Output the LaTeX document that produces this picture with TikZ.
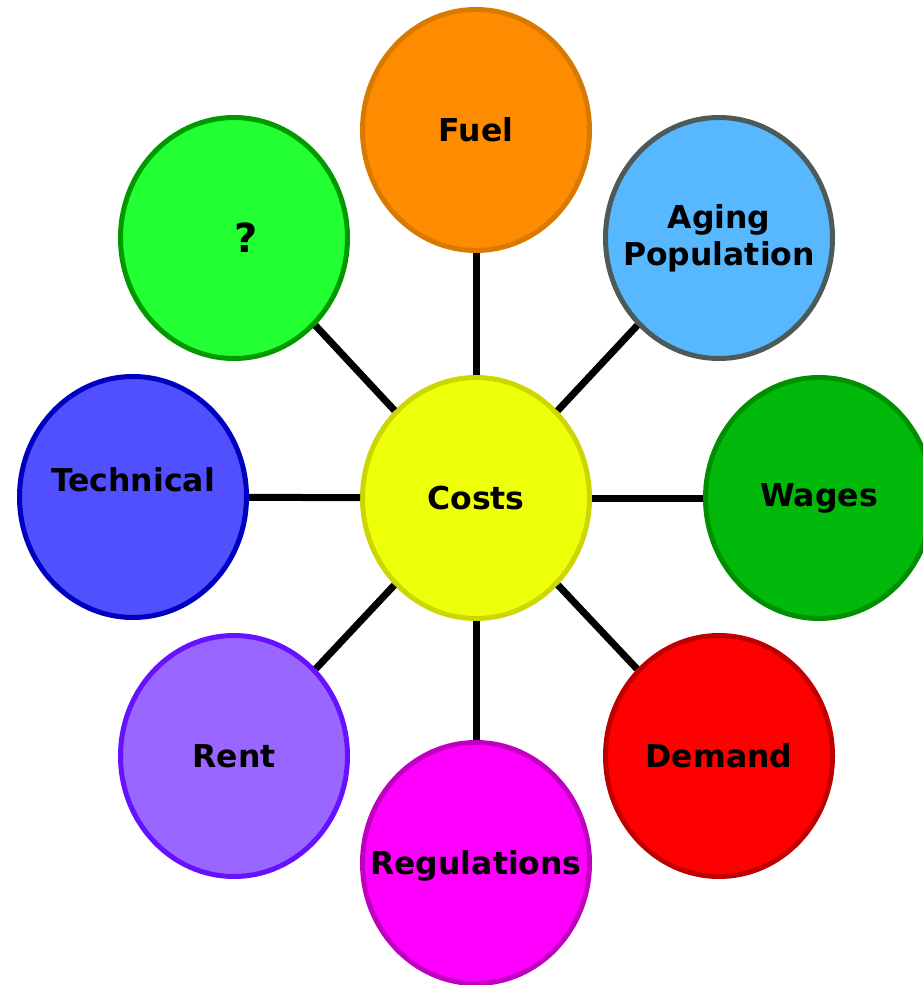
\documentclass[tikz,border=0pt]{standalone}
\usepackage{fontspec}
\setmainfont{DejaVu Sans}
\usetikzlibrary{positioning, calc, shapes.geometric}

\definecolor{fuelfill}{HTML}{FF8C00}\definecolor{fueldraw}{HTML}{D97A00}
\definecolor{agefill}{HTML}{57B8FF}\definecolor{agedraw}{HTML}{4D5A5A}
\definecolor{wagefill}{HTML}{00B90A}\definecolor{wagedraw}{HTML}{008F00}
\definecolor{demfill}{HTML}{FF0000}\definecolor{demdraw}{HTML}{C00000}
\definecolor{regfill}{HTML}{FF00FF}\definecolor{regdraw}{HTML}{C000C0}
\definecolor{rentfill}{HTML}{9966FF}\definecolor{rentdraw}{HTML}{6611FF}
\definecolor{techfill}{HTML}{5050FF}\definecolor{techdraw}{HTML}{0000C0}
\definecolor{askfill}{HTML}{22FF33}\definecolor{askdraw}{HTML}{009900}
\definecolor{costfill}{HTML}{EEFF0A}\definecolor{costdraw}{HTML}{CCD600}

\tikzset{
  bubble/.style={ellipse, draw, line width=5pt, minimum width=227pt, minimum height=241pt, inner sep=0pt},
  word/.style={font=\fontsize{31.5}{37}\selectfont\bfseries, align=center},
  spoke/.style={line width=7pt, black}
}

\begin{document}
\begin{tikzpicture}[x=1pt, y=-1pt]
			\useasboundingbox (0,0) rectangle (922,985);
			\node (costs) [bubble, fill=costfill, draw=costdraw, label={[word]center:Costs}] at (476,498) {};
			\node (fuel) [bubble, fill=fuelfill, draw=fueldraw, label={[word]center:Fuel}] at (476,130) {};
			\node (aging) [bubble, fill=agefill, draw=agedraw, label={[word]center:Aging\\Population}] at (719,238) {};
			\node (wages) [bubble, fill=wagefill, draw=wagedraw, label={[word]center:Wages}] at (819,498) {};
			\node (demand) [bubble, fill=demfill, draw=demdraw, label={[word]center:Demand}] at (719,756) {};
			\node (regs) [bubble, fill=regfill, draw=regdraw, label={[word, yshift=-3pt]center:Regulations}] at (476,863) {};
			\node (rent) [bubble, fill=rentfill, draw=rentdraw, label={[word]center:Rent}] at (234,756) {};
			\node (tech) [bubble, fill=techfill, draw=techdraw, label={[word, yshift=17pt]center:Technical}] at (133,497) {};
			\node (ask) [bubble, fill=askfill, draw=askdraw, label={[word, font=\fontsize{40}{46}\selectfont\bfseries, xshift=12pt]center:?}] at (234,238) {};
			
			\foreach \n in {fuel, aging, wages, demand, regs, rent, tech, ask}
				\draw [spoke] (costs) -- (\n);
		\end{tikzpicture}
\end{document}
